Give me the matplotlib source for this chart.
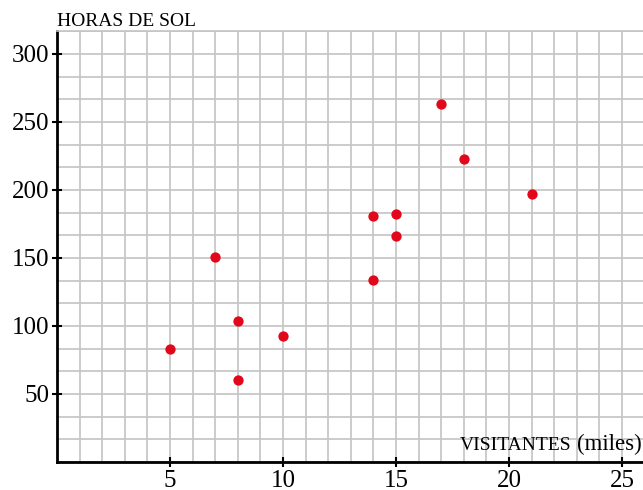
import matplotlib
matplotlib.use('Agg')
import matplotlib.pyplot as plt
from matplotlib.ticker import MultipleLocator

# datos
visitantes = [5, 7, 8, 8, 10, 14, 14, 15, 15, 17, 18, 21]
horas_sol = [83, 151, 104, 60, 93, 134, 181, 182, 166, 263, 223, 197]

x_ticks = [5, 10, 15, 20, 25]
y_ticks = [50, 100, 150, 200, 250, 300]

plt.rcParams['font.family'] = ['Liberation Serif', 'DejaVu Serif']

fig = plt.figure(figsize=(6.43, 4.9), dpi=100)
ax = fig.add_axes([57 / 643, 28 / 490, 586 / 643, 430.7 / 490])

ax.scatter(visitantes, horas_sol, s=55, color='#e3071b', zorder=3, linewidths=0)

ax.set_xlim(0, 586 / 22.6)
ax.set_ylim(0, 50 * 19 / 3)

ax.set_xticks(x_ticks)
ax.set_yticks(y_ticks)
ax.xaxis.set_minor_locator(MultipleLocator(1))
ax.yaxis.set_minor_locator(MultipleLocator(50 / 3))
ax.grid(True, which='both', color='#c4c4c4', linewidth=1.2, zorder=0)
ax.set_axisbelow(True)
ax.tick_params(which='minor', length=0)
ax.tick_params(which='major', direction='inout', length=7, width=1.5,
               labelsize=18, pad=2)

for side in ['left', 'bottom']:
    ax.spines[side].set_linewidth(2)
    ax.spines[side].set_color('black')
ax.spines['right'].set_visible(False)
ax.spines['top'].set_color('#c4c4c4')
ax.spines['top'].set_linewidth(1.2)

fig.text(57 / 643, 1 - 26 / 490, 'HORAS DE SOL', fontsize=14, ha='left', va='baseline')
fig.text(460 / 643, 1 - 450 / 490, 'VISITANTES', fontsize=14, ha='left', va='baseline')
fig.text(642 / 643, 1 - 450 / 490, '(miles)', fontsize=16.5, ha='right', va='baseline')

fig.savefig('out.png', dpi=100)
